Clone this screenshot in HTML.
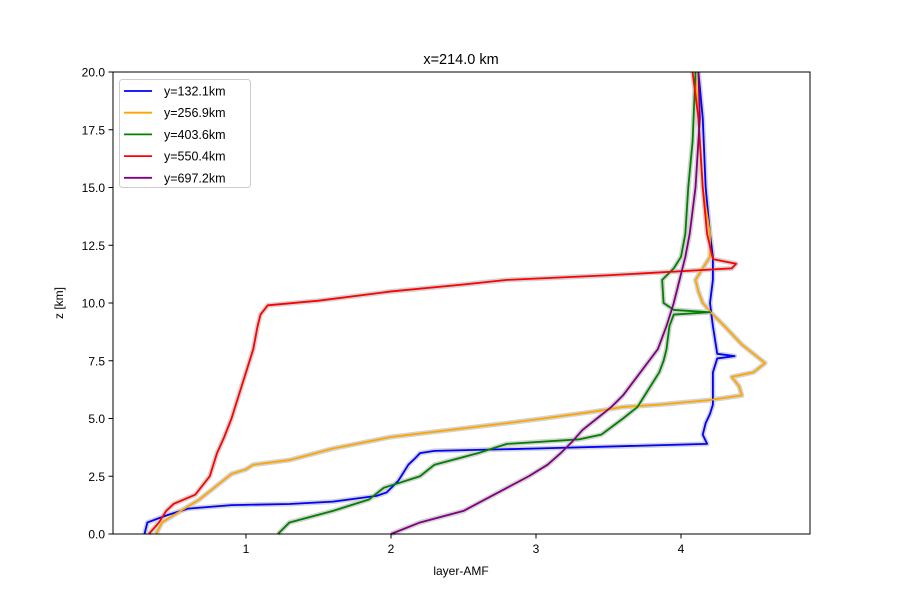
<!DOCTYPE html>
<html><head><meta charset="utf-8"><style>body{margin:0;background:#fff}svg{display:block;font-family:"Liberation Sans","DejaVu Sans",sans-serif}</style></head>
<body>
<svg id="c" width="900" height="600" viewBox="0 0 900 600">
<text x="461" y="64" font-size="14.5" text-anchor="middle">x=214.0 km</text>
<g id="plot"></g>
<rect x="113" y="72" width="697" height="462" fill="none" stroke="#000" stroke-width="1"/>
<g id="axes"></g>
<text x="461" y="575" font-size="12" text-anchor="middle">layer-AMF</text>
<text transform="translate(63,303) rotate(-90)" font-size="12" text-anchor="middle">z [km]</text>
<g id="legend"></g>
</svg>
<script>
const xTicks=[1,2,3,4];
const yTicks=[0,2.5,5,7.5,10,12.5,15,17.5,20];
const seriesNames=["y=132.1km","y=256.9km","y=403.6km","y=550.4km","y=697.2km"];
const seriesColors=["blue","orange","green","red","purple"];
const zBlue=[0,0.5,0.8,1.1,1.25,1.3,1.4,1.65,1.8,2.3,3.0,3.3,3.5,3.6,3.7,3.9,4.3,4.8,5.2,5.6,6.0,7.0,7.6,7.7,7.8,9,10,11,12,13,15,18,20];
const xBlue=[0.30,0.32,0.45,0.6,0.9,1.3,1.6,1.9,1.97,2.05,2.12,2.17,2.2,2.3,3.0,4.18,4.15,4.17,4.2,4.22,4.22,4.22,4.25,4.37,4.25,4.22,4.2,4.22,4.22,4.2,4.17,4.15,4.12];
const zOrange=[0,0.5,1,1.5,2,2.6,2.8,3.0,3.2,3.7,4.2,4.5,4.8,5.0,5.3,5.5,5.6,5.8,6.0,6.4,6.8,7.0,7.4,7.8,8.2,9,9.5,10,10.5,11,11.5,12,13,15,18,20];
const xOrange=[0.38,0.42,0.55,0.68,0.78,0.9,1.0,1.05,1.3,1.6,2.0,2.4,2.8,3.05,3.4,3.6,3.85,4.2,4.42,4.4,4.35,4.5,4.58,4.5,4.42,4.3,4.22,4.15,4.12,4.1,4.15,4.2,4.2,4.15,4.12,4.1];
const zGreen=[0,0.5,1,1.5,2,2.5,3.0,3.5,3.9,4.1,4.3,5,5.5,6,7,7.5,8,9,9.5,9.6,9.7,10,11,11.5,12,13,15,17,20];
const xGreen=[1.22,1.3,1.6,1.85,1.95,2.2,2.3,2.6,2.8,3.3,3.45,3.6,3.7,3.75,3.85,3.88,3.9,3.92,3.95,4.2,3.95,3.88,3.87,3.95,4.0,4.03,4.05,4.08,4.1];
const zRed=[0,0.5,1,1.3,1.7,2.5,3.5,4.2,5,6,7,8,9,9.5,9.9,10.1,10.5,10.8,11.0,11.2,11.5,11.7,11.9,13,15,18,20];
const xRed=[0.33,0.4,0.45,0.5,0.65,0.75,0.8,0.85,0.9,0.95,1.0,1.05,1.08,1.1,1.15,1.5,2.0,2.5,2.8,3.5,4.35,4.38,4.22,4.18,4.15,4.12,4.08];
const zPurple=[0,0.5,1,2,2.5,3,3.5,4,4.5,5,5.5,6,7,7.5,8,9,10,11,12,13,15,18,20];
const xPurple=[2.0,2.2,2.5,2.8,2.95,3.08,3.17,3.25,3.32,3.42,3.52,3.6,3.72,3.78,3.84,3.9,3.95,3.99,4.03,4.06,4.1,4.13,4.12];
const S=[[xBlue,zBlue],[xOrange,zOrange],[xGreen,zGreen],[xRed,zRed],[xPurple,zPurple]];
const NS="http://www.w3.org/2000/svg";
const X=v=>101+145*v, Y=v=>534-23.1*v;
const plot=document.getElementById('plot'),axes=document.getElementById('axes'),leg=document.getElementById('legend');
function mk(t,a,p){const e=document.createElementNS(NS,t);for(const k in a)e.setAttribute(k,a[k]);p.appendChild(e);return e;}
S.forEach((s,i)=>{const pts=s[0].map((x,j)=>X(x)+','+Y(s[1][j])).join(' ');
 const b=mk('polyline',{points:pts,fill:'none',stroke:'#d3d3d3','stroke-width':5,'stroke-linejoin':'round'},plot);
 
 });
S.forEach((s,i)=>{const pts=s[0].map((x,j)=>X(x)+','+Y(s[1][j])).join(' ');
 const l=mk('polyline',{points:pts,fill:'none',stroke:seriesColors[i],'stroke-width':1.8,'stroke-linejoin':'round'},plot);
 
 });
xTicks.forEach(v=>{const t=mk('line',{x1:X(v),x2:X(v),y1:534,y2:538.5,stroke:'#000'},axes);
 
 
 const tx=mk('text',{x:X(v),y:553,'font-size':12,'text-anchor':'middle'},axes);tx.textContent=v;
 
 });
yTicks.forEach(v=>{const t=mk('line',{x1:108.5,x2:113,y1:Y(v),y2:Y(v),stroke:'#000'},axes);
 
 
 const tx=mk('text',{x:105,y:Y(v)+4.5,'font-size':12,'text-anchor':'end'},axes);tx.textContent=v.toFixed(1);
 
 });
const box=mk('rect',{x:119.5,y:79.5,width:131,height:108,rx:3,fill:'#fff','fill-opacity':0.8,stroke:'#ccc'},leg);


seriesNames.forEach((n,i)=>{const y=91+i*21.7;
 const l=mk('line',{x1:124,x2:152,y1:y,y2:y,stroke:seriesColors[i],'stroke-width':1.8},leg);
 
 
 const t=mk('text',{x:164,y:y+4.5,'font-size':12.5},leg);t.textContent=n;
 
 });
</script>
</body></html>
